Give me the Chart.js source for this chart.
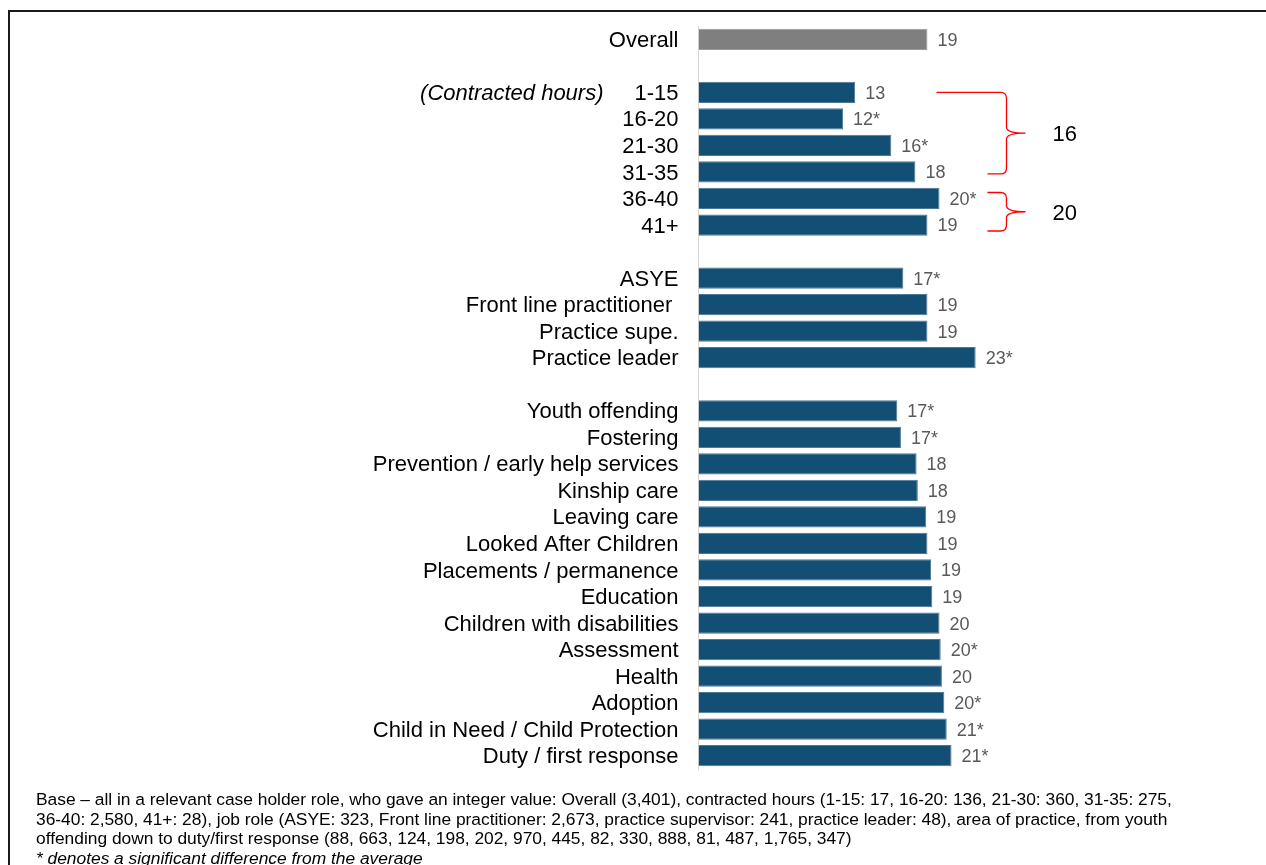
<!DOCTYPE html>
<html>
<head>
<meta charset="utf-8">
<script src="https://cdn.jsdelivr.net/npm/chart.js@4/dist/chart.umd.min.js"></script>
<style>
  html, body { margin: 0; padding: 0; background: #fff; overflow: hidden; }
  #wrap { position: relative; width: 1266px; height: 865px; overflow: hidden; }
  #frame {
    position: absolute; left: 8px; top: 10px; width: 1400px; height: 1000px;
    border-left: 2px solid #1a1a1a; border-top: 2px solid #1a1a1a;
  }
  #chart { position: absolute; left: 0; top: 0; }
  #note {
    position: absolute; left: 36px; top: 790px;
    font-family: "Liberation Sans", Arial, sans-serif; font-size: 17.4px; line-height: 19.6px;
    color: #000; white-space: nowrap; letter-spacing: -0.02px;
  }
</style>
</head>
<body>
<div id="wrap">
  <div id="frame"></div>
  <canvas id="chart" width="1266" height="865"></canvas>
  <div id="note">
    Base – all in a relevant case holder role, who gave an integer value: Overall (3,401), contracted hours (1-15: 17, 16-20: 136, 21-30: 360, 31-35: 275,<br>
    36-40: 2,580, 41+: 28), job role (ASYE: 323, Front line practitioner: 2,673, practice supervisor: 241, practice leader: 48), area of practice, from youth<br>
    offending down to duty/first response (88, 663, 124, 198, 202, 970, 445, 82, 330, 888, 81, 487, 1,765, 347)<br>
    <i>* denotes a significant difference from the average</i>
  </div>
</div>
<script>
// Data ------------------------------------------------------------------------------

const OVERALL_LABEL = 'Overall';
const OVERALL_VALUE = 19.0;
const OVERALL_TEXT = '19';

const HOURS_LABELS = ['1-15', '16-20', '21-30', '31-35', '36-40', '41+'];
const HOURS_VALUES = [13.0, 12.0, 16.0, 18.0, 20.0, 19.0];
const HOURS_TEXT = ['13', '12*', '16*', '18', '20*', '19'];

const ROLE_LABELS = ['ASYE', 'Front line practitioner ', 'Practice supe.', 'Practice leader'];
const ROLE_VALUES = [17.0, 19.0, 19.0, 23.0];
const ROLE_TEXT = ['17*', '19', '19', '23*'];

const PRACTICE_LABELS = ['Youth offending', 'Fostering', 'Prevention / early help services', 'Kinship care',
    'Leaving care', 'Looked After Children', 'Placements / permanence', 'Education',
    'Children with disabilities', 'Assessment', 'Health', 'Adoption',
    'Child in Need / Child Protection', 'Duty / first response'];
const PRACTICE_VALUES = [16.5, 16.8, 18.1, 18.2, 18.9, 19.0, 19.3, 19.4, 20.0, 20.1, 20.2, 20.4, 20.6, 21.0];
const PRACTICE_TEXT = ['17*', '17*', '18', '18', '19', '19', '19', '19', '20', '20*', '20', '20*', '21*', '21*'];

// bracket groups: [first row label, last row label, mean text]
const BRACKETS = [['1-15', '31-35', '16'], ['36-40', '41+', '20']];

// Constants ------------------------------------------------------------------------------

const FONT = '"Liberation Sans", Arial, sans-serif';
const BLUE = '#134e74';
const GREY = '#7f7f7f';

// Build rows (blank rows separate the groups) -------------------------------------------

let labels = [OVERALL_LABEL, ''].concat(HOURS_LABELS, [''], ROLE_LABELS, [''], PRACTICE_LABELS);
let values = [OVERALL_VALUE, null].concat(HOURS_VALUES, [null], ROLE_VALUES, [null], PRACTICE_VALUES);
let texts = [OVERALL_TEXT, ''].concat(HOURS_TEXT, [''], ROLE_TEXT, [''], PRACTICE_TEXT);
let colors = values.map(function (v, i) { return i === 0 ? GREY : BLUE; });
let borders = values.map(function (v, i) { return i === 0 ? '#9a9a9a' : '#4d7896'; });

// Plugins ------------------------------------------------------------------------------

const valueLabels = {
    id: 'valueLabels',
    afterDatasetsDraw: function (chart) {
        let ctx = chart.ctx;
        let meta = chart.getDatasetMeta(0);
        ctx.save();
        ctx.font = '18px ' + FONT;
        ctx.fillStyle = '#595959';
        ctx.textAlign = 'left';
        ctx.textBaseline = 'middle';
        meta.data.forEach(function (bar, i) {
            if (values[i] === null) return;
            ctx.fillText(texts[i], bar.x + 10, bar.y + 1.5);
        });
        ctx.restore();
    }
};

const extras = {
    id: 'extras',
    afterDraw: function (chart) {
        let ctx = chart.ctx;
        let y = chart.scales.y;
        let area = chart.chartArea;
        ctx.save();

        // group caption
        ctx.font = 'italic 22px ' + FONT;
        ctx.fillStyle = '#000';
        ctx.textAlign = 'right';
        ctx.textBaseline = 'middle';
        ctx.fillText('(Contracted hours)', area.left - 95, y.getPixelForValue(labels.indexOf('1-15')) + 1.5);

        // red brackets
        ctx.strokeStyle = '#ff0000';
        ctx.lineWidth = 1.3;
        let xv = area.left + 308;
        let xTip = area.left + 327;
        let r = 6;
        BRACKETS.forEach(function (b, k) {
            let i0 = labels.indexOf(b[0]);
            let i1 = labels.indexOf(b[1]);
            let yTop = y.getPixelForValue(i0) - (k === 0 ? 0 : 6);
            let yBot = y.getPixelForValue(i1) + (k === 0 ? 2 : 6);
            let yMid = (yTop + yBot) / 2;
            let xStart = k === 0 ? area.left + 238 : area.left + 289;
            let xEnd = area.left + 289;
            ctx.beginPath();
            ctx.moveTo(xStart, yTop);
            ctx.lineTo(xv - r, yTop);
            ctx.quadraticCurveTo(xv, yTop, xv, yTop + r);
            ctx.lineTo(xv, yMid - r);
            ctx.quadraticCurveTo(xv, yMid, xTip, yMid);
            ctx.quadraticCurveTo(xv, yMid, xv, yMid + r);
            ctx.lineTo(xv, yBot - r);
            ctx.quadraticCurveTo(xv, yBot, xv - r, yBot);
            ctx.lineTo(xEnd, yBot);
            ctx.stroke();

            ctx.font = '22px ' + FONT;
            ctx.fillStyle = '#000';
            ctx.textAlign = 'left';
            ctx.fillText(b[2], area.left + 354, yMid + 2);
        });
        ctx.restore();
    }
};

// Chart ------------------------------------------------------------------------------

new Chart(document.getElementById('chart').getContext('2d'), {
    type: 'bar',
    data: {
        labels: labels,
        datasets: [{
            data: values,
            backgroundColor: colors,
            borderColor: borders,
            borderWidth: 1,
            barPercentage: 0.8,
            categoryPercentage: 1.0
        }]
    },
    options: {
        indexAxis: 'y',
        responsive: false,
        animation: false,
        devicePixelRatio: 1,
        layout: { padding: { top: 26, bottom: 96, left: 0, right: 206 } },
        plugins: {
            legend: { display: false },
            tooltip: { enabled: false }
        },
        scales: {
            x: { display: false, min: 0, max: 30 },
            y: {
                grid: { display: false, drawTicks: false },
                border: { display: true, color: '#d9d9d9', width: 1 },
                ticks: {
                    autoSkip: false,
                    padding: 20,
                    labelOffset: 1.5,
                    color: '#000',
                    font: { family: FONT, size: 22 }
                },
                afterFit: function (scale) {
                    scale.width = 698.5;
                    scale.paddingTop = 0;
                    scale.paddingBottom = 0;
                }
            }
        }
    },
    plugins: [valueLabels, extras]
});
</script>
</body>
</html>
